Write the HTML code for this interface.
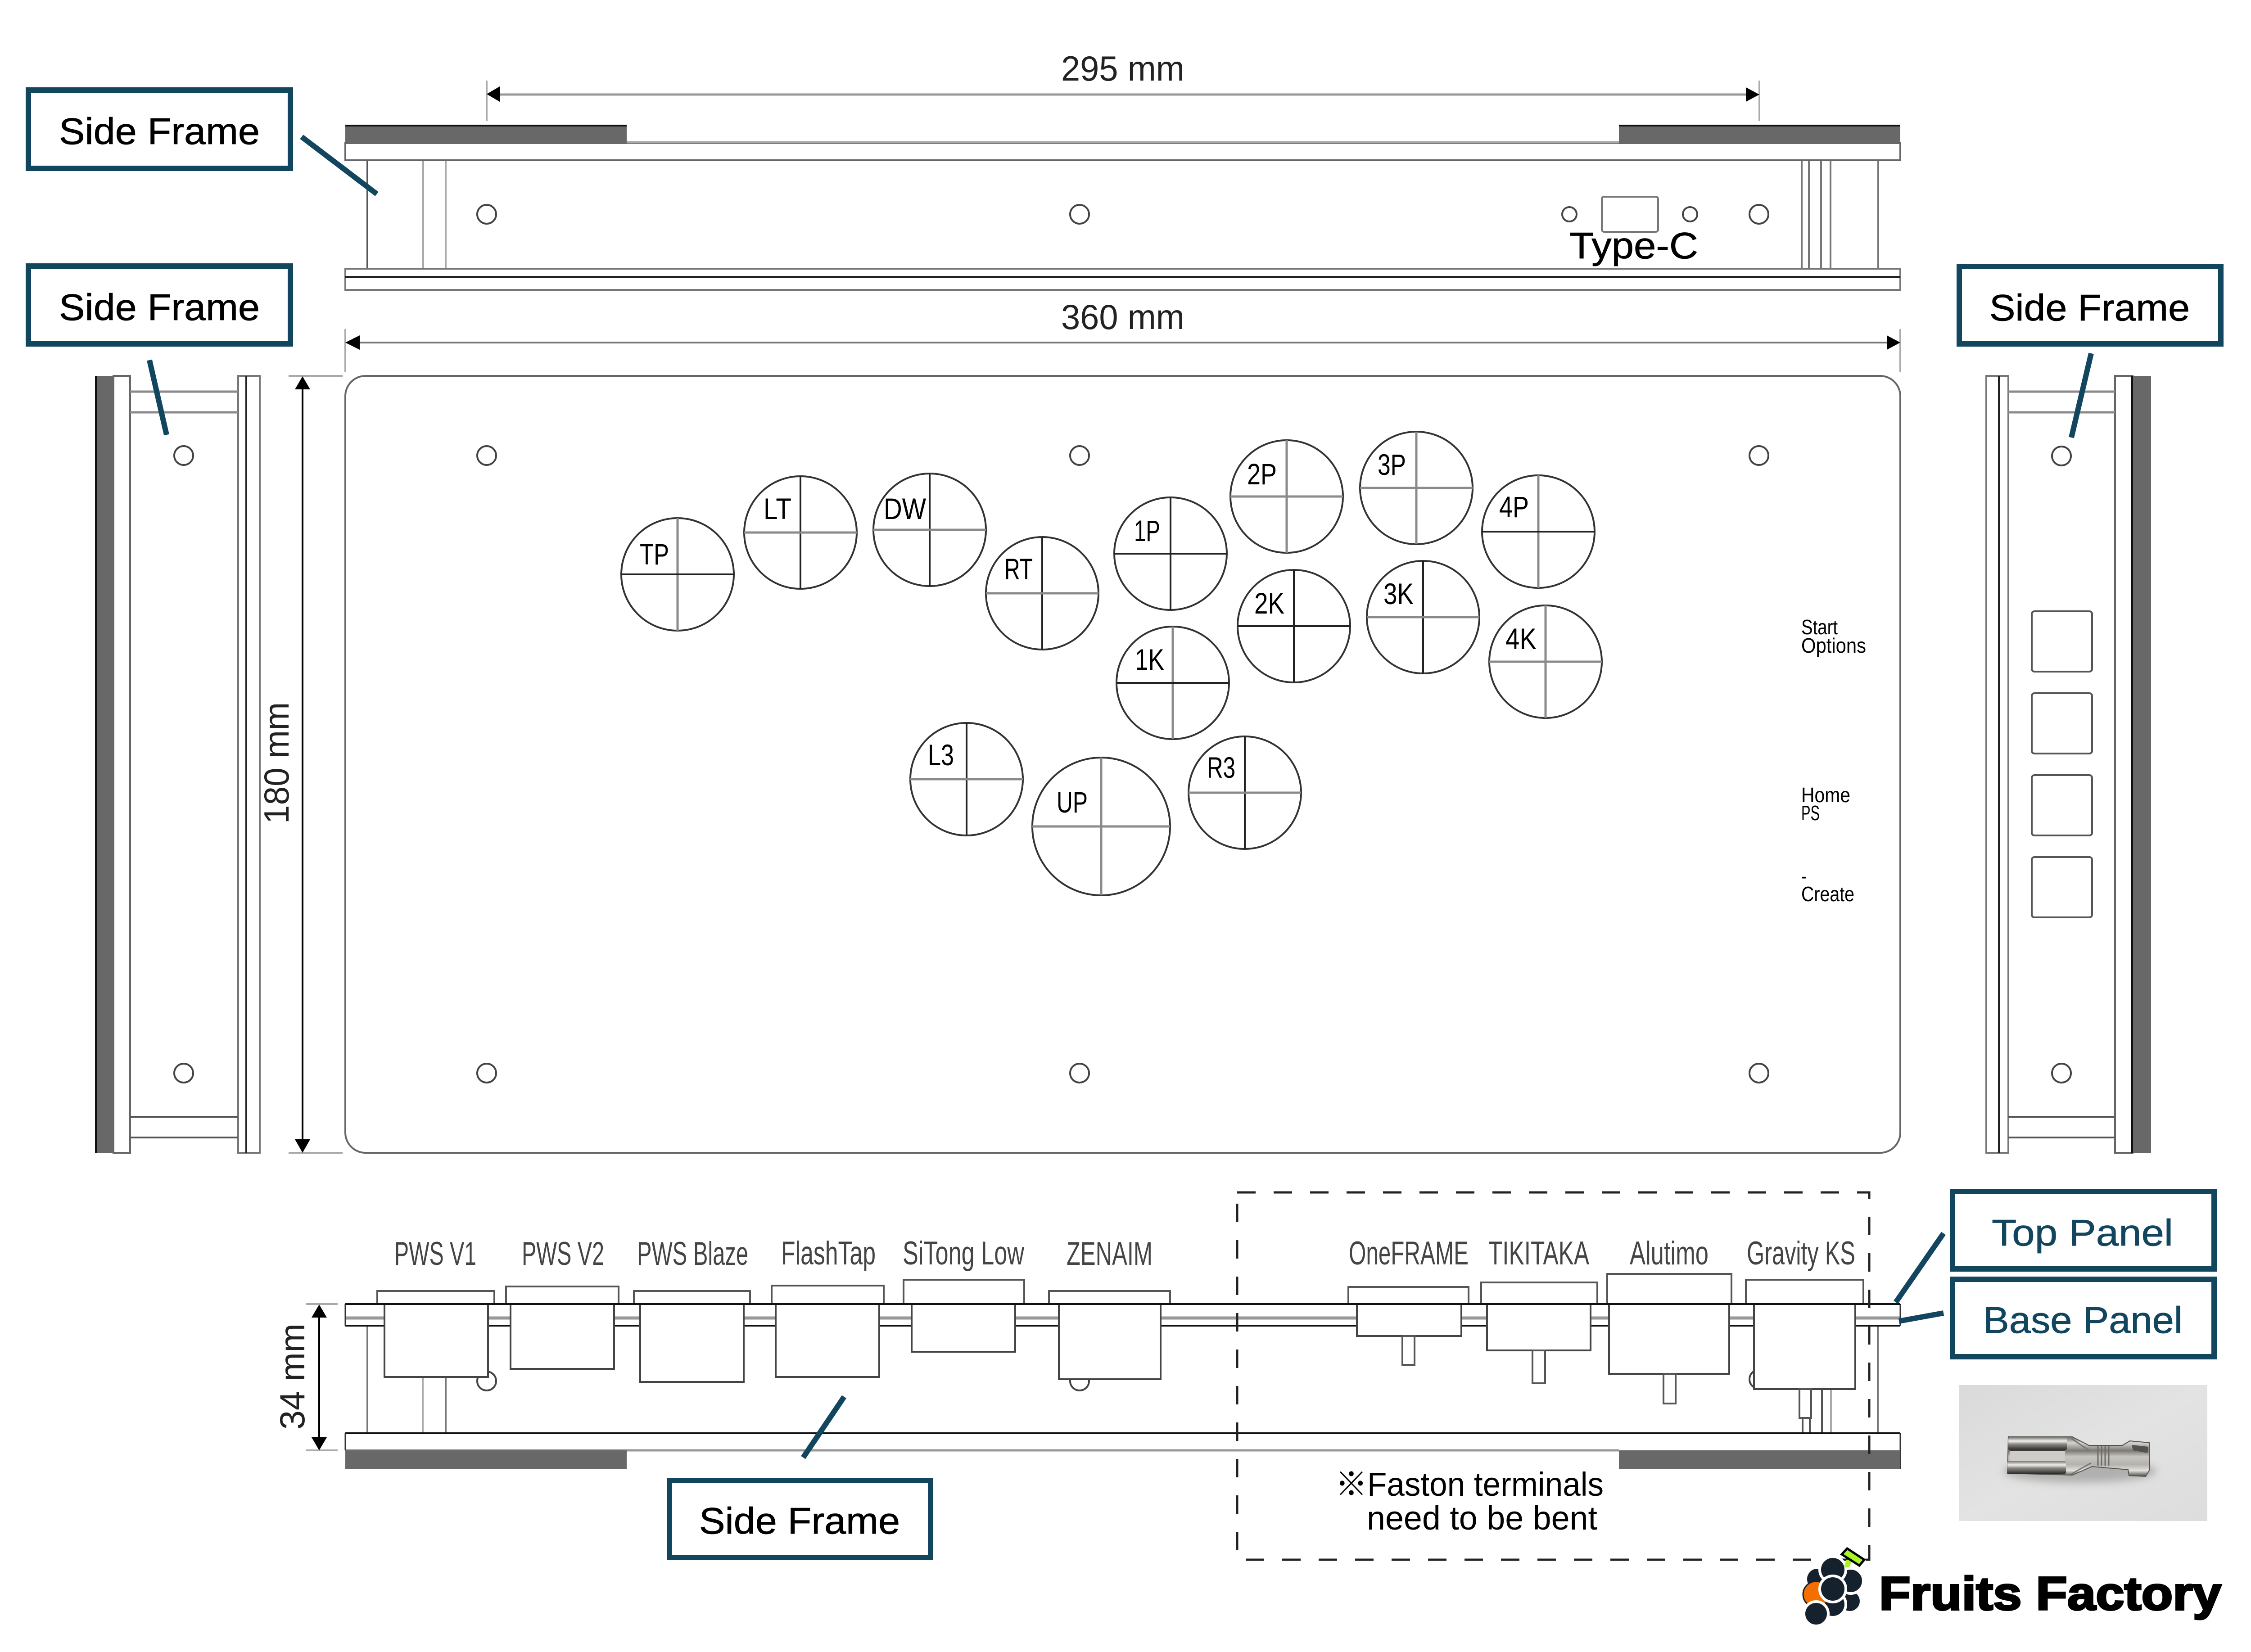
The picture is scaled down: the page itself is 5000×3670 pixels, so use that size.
<!DOCTYPE html>
<html lang="en">
<head>
<meta charset="utf-8">
<title>Arcade Controller Diagram</title>
<style>
html,body{margin:0;padding:0;background:#fff;width:5000px;height:3670px;overflow:hidden}
svg{display:block}
text{font-family:"Liberation Sans",sans-serif;fill:#000}
.k{stroke:#222;stroke-width:4;fill:none}
.g{stroke:#8a8a8a;stroke-width:5;fill:none}
.m{stroke:#555;stroke-width:4;fill:none}
.l{stroke:#aaa;stroke-width:4;fill:none}
.c{stroke:#333;stroke-width:4;fill:#fff}
.h{stroke:#444;stroke-width:4;fill:#fff}
.box{fill:#fff;stroke:#12465f;stroke-width:12}
.conn{stroke:#12465f;stroke-width:12;fill:none}
.lab{font-size:66px}
.sw{font-size:73px;fill:#444}
.sm{font-size:46px}
.big{font-size:83px;stroke:#000;stroke-width:.8}
.big2{font-size:83px;fill:#12465f;stroke:#12465f;stroke-width:.8}
.dim{font-size:78px;fill:#222}
.mod{fill:#fff;stroke:#444;stroke-width:4}
.cap{fill:#fff;stroke:#555;stroke-width:4}
</style>
</head>
<body>
<svg xmlns="http://www.w3.org/2000/svg" width="5000" height="3670" viewBox="0 0 5000 3670">
<defs>
<linearGradient id="bgp" x1="0" y1="0" x2="1" y2="1"><stop offset="0" stop-color="#d9dad9"/><stop offset="0.5" stop-color="#e2e3e2"/><stop offset="1" stop-color="#dcdddc"/></linearGradient>
<linearGradient id="met" x1="0" y1="0" x2="0" y2="1"><stop offset="0" stop-color="#6f6c68"/><stop offset="0.15" stop-color="#d6d4d0"/><stop offset="0.35" stop-color="#7d7a75"/><stop offset="0.5" stop-color="#c9c7c2"/><stop offset="0.7" stop-color="#b5b2ad"/><stop offset="0.85" stop-color="#e4e2de"/><stop offset="1" stop-color="#4a4845"/></linearGradient>
<linearGradient id="roll" x1="0" y1="0" x2="0" y2="1"><stop offset="0" stop-color="#7d7a76"/><stop offset="0.3" stop-color="#f2f1ee"/><stop offset="0.55" stop-color="#8b8884"/><stop offset="1" stop-color="#2e2c2a"/></linearGradient>
<filter id="blur" x="-20%" y="-50%" width="140%" height="200%"><feGaussianBlur stdDeviation="9"/></filter>
</defs>

<!-- TOP VIEW -->
<path class="l" d="M1081 179V269M3908 179V269"/>
<path d="M1095 210H3890" stroke="#999" stroke-width="5" fill="none"/>
<polygon points="1081,209 1110,192 1110,226" fill="#000"/>
<polygon points="3908,210 3878,194 3878,226" fill="#000"/>
<text class="dim" x="2357" y="179" textLength="274" lengthAdjust="spacingAndGlyphs">295 mm</text>

<path class="m" d="M816 356V597" stroke-width="3"/>
<path class="l" d="M940 356V597"/>
<path class="l" d="M990 356V597" stroke="#777" stroke-width="3"/>
<path class="l" d="M4002 356V597M4018 356V597M4045 356V597M4066 356V597M4172 356V597" stroke="#777" stroke-width="3" style="stroke:#777"/>
<rect x="767" y="318" width="3454" height="38" fill="#fff" stroke="#666" stroke-width="4"/>
<rect x="767" y="278" width="625" height="40" fill="#686868"/>
<rect x="767" y="277" width="625" height="4" fill="#111"/>
<rect x="3596" y="278" width="625" height="40" fill="#686868"/>
<rect x="3596" y="277" width="625" height="4" fill="#111"/>
<path d="M1392 316H3596" stroke="#aaa" stroke-width="5"/>
<rect x="767" y="597" width="3454" height="47" fill="#fff" stroke="#777" stroke-width="4"/>
<path class="k" d="M767 615H4221"/>
<circle class="h" cx="1081" cy="476" r="21"/>
<circle class="h" cx="2398" cy="476" r="21"/>
<circle class="h" cx="3907" cy="476" r="21"/>
<circle class="h" cx="3486" cy="476" r="16"/>
<circle class="h" cx="3754" cy="476" r="16"/>
<rect x="3558" y="437" width="125" height="78" rx="5" fill="#fff" stroke="#777" stroke-width="4"/>
<text class="big" x="3486" y="574" textLength="286" lengthAdjust="spacingAndGlyphs">Type-C</text>

<!-- 360 dim -->
<path class="l" d="M767 731V826M4221 731V826"/>
<path d="M785 761H4200" stroke="#777" stroke-width="4"/>
<polygon points="767,761 799,745 799,777" fill="#000"/>
<polygon points="4221,761 4191,745 4191,777" fill="#000"/>
<text class="dim" x="2357" y="731" textLength="274" lengthAdjust="spacingAndGlyphs">360 mm</text>

<!-- MAIN PANEL -->
<rect x="767" y="835" width="3454" height="1726" rx="45" ry="45" fill="#fff" stroke="#666" stroke-width="4"/>
<g>
<circle class="h" cx="1081" cy="1012" r="21"/><circle class="h" cx="2398" cy="1012" r="21"/><circle class="h" cx="3907" cy="1012" r="21"/>
<circle class="h" cx="1081" cy="2384" r="21"/><circle class="h" cx="2398" cy="2384" r="21"/><circle class="h" cx="3907" cy="2384" r="21"/>
</g>

<!-- Buttons -->
<g>
<circle class="c" cx="1505" cy="1276" r="125"/><path class="g" d="M1505 1151V1401"/><path class="k" d="M1380 1276H1630"/>
<text class="lab" x="1421" y="1254" textLength="65" lengthAdjust="spacingAndGlyphs">TP</text>
<circle class="c" cx="1778" cy="1183" r="125"/><path class="k" d="M1778 1058V1308"/><path class="g" d="M1653 1183H1903"/>
<text class="lab" x="1696" y="1153" textLength="62" lengthAdjust="spacingAndGlyphs">LT</text>
<circle class="c" cx="2065" cy="1177" r="125"/><path class="k" d="M2065 1052V1302"/><path class="g" d="M1940 1177H2190"/>
<text class="lab" x="1963" y="1153" textLength="94" lengthAdjust="spacingAndGlyphs">DW</text>
<circle class="c" cx="2315" cy="1318" r="125"/><path class="k" d="M2315 1193V1443"/><path class="g" d="M2190 1318H2440"/>
<text class="lab" x="2231" y="1287" textLength="63" lengthAdjust="spacingAndGlyphs">RT</text>
<circle class="c" cx="2600" cy="1230" r="125"/><path class="k" d="M2600 1105V1355"/><path class="k" d="M2475 1230H2725"/>
<text class="lab" x="2519" y="1202" textLength="58" lengthAdjust="spacingAndGlyphs">1P</text>
<circle class="c" cx="2605" cy="1517" r="125"/><path class="g" d="M2605 1392V1642"/><path class="k" d="M2480 1517H2730"/>
<text class="lab" x="2521" y="1488" textLength="65" lengthAdjust="spacingAndGlyphs">1K</text>
<circle class="c" cx="2147" cy="1731" r="125"/><path class="k" d="M2147 1606V1856"/><path class="g" d="M2022 1731H2272"/>
<text class="lab" x="2061" y="1700" textLength="58" lengthAdjust="spacingAndGlyphs">L3</text>
<circle class="c" cx="2446" cy="1836" r="153"/><path class="g" d="M2446 1683V1989"/><path class="g" d="M2293 1836H2599"/>
<text class="lab" x="2347" y="1805" textLength="69" lengthAdjust="spacingAndGlyphs">UP</text>
<circle class="c" cx="2858" cy="1103" r="125"/><path class="g" d="M2858 978V1228"/><path class="g" d="M2733 1103H2983"/>
<text class="lab" x="2770" y="1076" textLength="66" lengthAdjust="spacingAndGlyphs">2P</text>
<circle class="c" cx="3146" cy="1084" r="125"/><path class="g" d="M3146 959V1209"/><path class="g" d="M3021 1084H3271"/>
<text class="lab" x="3060" y="1055" textLength="63" lengthAdjust="spacingAndGlyphs">3P</text>
<circle class="c" cx="3417" cy="1181" r="125"/><path class="g" d="M3417 1056V1306"/><path class="k" d="M3292 1181H3542"/>
<text class="lab" x="3330" y="1149" textLength="66" lengthAdjust="spacingAndGlyphs">4P</text>
<circle class="c" cx="2874" cy="1391" r="125"/><path class="k" d="M2874 1266V1516"/><path class="k" d="M2749 1391H2999"/>
<text class="lab" x="2786" y="1363" textLength="67" lengthAdjust="spacingAndGlyphs">2K</text>
<circle class="c" cx="3161" cy="1371" r="125"/><path class="k" d="M3161 1246V1496"/><path class="g" d="M3036 1371H3286"/>
<text class="lab" x="3073" y="1342" textLength="67" lengthAdjust="spacingAndGlyphs">3K</text>
<circle class="c" cx="3433" cy="1470" r="125"/><path class="g" d="M3433 1345V1595"/><path class="g" d="M3308 1470H3558"/>
<text class="lab" x="3344" y="1442" textLength="69" lengthAdjust="spacingAndGlyphs">4K</text>
<circle class="c" cx="2765" cy="1761" r="125"/><path class="k" d="M2765 1636V1886"/><path class="g" d="M2640 1761H2890"/>
<text class="lab" x="2681" y="1728" textLength="63" lengthAdjust="spacingAndGlyphs">R3</text>
</g>

<!-- Right-side labels -->
<text class="sm" x="4001" y="1409" textLength="81" lengthAdjust="spacingAndGlyphs">Start</text>
<text class="sm" x="4001" y="1450" textLength="144" lengthAdjust="spacingAndGlyphs">Options</text>
<text class="sm" x="4001" y="1782" textLength="109" lengthAdjust="spacingAndGlyphs">Home</text>
<text class="sm" x="4001" y="1822" textLength="41" lengthAdjust="spacingAndGlyphs">PS</text>
<text class="sm" x="4001" y="1962" textLength="12" lengthAdjust="spacingAndGlyphs">-</text>
<text class="sm" x="4001" y="2002" textLength="118" lengthAdjust="spacingAndGlyphs">Create</text>

<!-- LEFT SIDE VIEW -->
<rect x="252" y="835" width="37" height="1726" fill="#fff" stroke="#666" stroke-width="4"/>
<rect x="211" y="835" width="41" height="1726" fill="#686868"/>
<rect x="211" y="835" width="4" height="1726" fill="#111"/>
<rect x="529" y="835" width="48" height="1726" fill="#fff" stroke="#777" stroke-width="4"/>
<path class="k" d="M547 835V2561"/>
<path class="g" d="M289 870H529M289 916H529"/>
<path class="m" d="M289 2481H529M289 2527H529"/>
<circle class="h" cx="408" cy="1012" r="21"/>
<circle class="h" cx="408" cy="2384" r="21"/>

<!-- 180 dim -->
<path class="l" d="M641 835H761M641 2561H761"/>
<path stroke="#000" stroke-width="4" d="M672 850V2545"/>
<polygon points="672,836 655,865 689,865" fill="#000"/>
<polygon points="672,2561 655,2531 689,2531" fill="#000"/>
<text class="dim" transform="translate(641 1830) rotate(-90)" x="0" y="0" textLength="270" lengthAdjust="spacingAndGlyphs">180 mm</text>

<!-- RIGHT SIDE VIEW -->
<rect x="4412" y="835" width="49" height="1726" fill="#fff" stroke="#777" stroke-width="4"/>
<path class="k" d="M4440 835V2561"/>
<rect x="4698" y="835" width="39" height="1726" fill="#fff" stroke="#666" stroke-width="4"/>
<rect x="4737" y="835" width="41" height="1726" fill="#686868"/>
<rect x="4734" y="835" width="4" height="1726" fill="#111"/>
<path class="g" d="M4461 870H4698M4461 916H4698"/>
<path class="m" d="M4461 2481H4698M4461 2527H4698"/>
<circle class="h" cx="4579" cy="1013" r="21"/>
<circle class="h" cx="4579" cy="2384" r="21"/>
<g fill="#fff" stroke="#555" stroke-width="4">
<rect x="4513" y="1358" width="134" height="134" rx="6"/>
<rect x="4513" y="1540" width="134" height="134" rx="6"/>
<rect x="4513" y="1722" width="134" height="134" rx="6"/>
<rect x="4513" y="1904" width="134" height="134" rx="6"/>
</g>

<!-- BOTTOM VIEW -->
<path class="l" d="M816 2945V3184M990 2945V3184M4171 2945V3184" style="stroke:#777" stroke-width="3"/>
<path class="l" d="M939 2945V3184M4067 3086V3184"/>
<path class="m" d="M4047 3086V3184" stroke-width="3"/>
<circle class="h" cx="1081" cy="3068" r="21"/>
<circle class="h" cx="2398" cy="3068" r="21"/>
<circle class="h" cx="3907" cy="3064" r="21"/>

<rect x="767" y="2897" width="3454" height="48" fill="#fff"/>
<path d="M767 2928H4221" stroke="#999" stroke-width="7"/>
<path d="M767 2897H4221" stroke="#111" stroke-width="4"/>
<path d="M767 2945H4221" stroke="#111" stroke-width="4"/>
<path d="M767 2897V2945M4221 2897V2945" stroke="#333" stroke-width="3"/>

<g>
<path class="cap" d="M838 2897V2868H1098V2897"/><rect class="mod" x="854" y="2897" width="230" height="162"/>
<path class="cap" d="M1124 2897V2858H1374V2897"/><rect class="mod" x="1134" y="2897" width="230" height="144"/>
<path class="cap" d="M1408 2897V2868H1666V2897"/><rect class="mod" x="1422" y="2897" width="230" height="173"/>
<path class="cap" d="M1714 2897V2856H1963V2897"/><rect class="mod" x="1723" y="2897" width="230" height="162"/>
<path class="cap" d="M2007 2897V2843H2275V2897"/><rect class="mod" x="2025" y="2897" width="230" height="106"/>
<path class="cap" d="M2330 2897V2868H2599V2897"/><rect class="mod" x="2352" y="2897" width="226" height="167"/>
<path class="cap" d="M2995 2897V2859H3262V2897"/><rect class="mod" x="3014" y="2897" width="232" height="71"/>
<rect class="cap" x="3115" y="2968" width="27" height="64" stroke-width="3"/>
<path class="cap" d="M3290 2897V2849H3548V2897"/><rect class="mod" x="3303" y="2897" width="230" height="103"/>
<rect class="cap" x="3404" y="3000" width="28" height="73" stroke-width="3"/>
<path class="cap" d="M3570 2897V2830H3846V2897"/><rect class="mod" x="3574" y="2897" width="267" height="155"/>
<rect class="cap" x="3695" y="3052" width="27" height="66" stroke-width="3"/>
<path class="cap" d="M3878 2897V2843H4139V2897"/><rect class="mod" x="3896" y="2897" width="225" height="189"/>
<rect class="cap" x="3997" y="3086" width="26" height="64" stroke-width="3"/>
<path class="m" d="M4004 3150V3184M4020 3150V3184" stroke-width="3"/>
</g>
<path d="M767 2897H4221" stroke="#111" stroke-width="4"/>

<rect x="767" y="3184" width="3454" height="38" fill="#fff"/>
<path d="M767 3184H4221" stroke="#111" stroke-width="4"/>
<path d="M767 3222H3596" stroke="#999" stroke-width="5"/>
<path d="M767 3184V3222M4221 3184V3263" stroke="#333" stroke-width="3"/>
<rect x="767" y="3222" width="625" height="41" fill="#686868"/>
<rect x="3596" y="3222" width="625" height="41" fill="#686868"/>

<g class="swg">
<text class="sw" x="876" y="2810" textLength="182" lengthAdjust="spacingAndGlyphs">PWS V1</text>
<text class="sw" x="1159" y="2810" textLength="183" lengthAdjust="spacingAndGlyphs">PWS V2</text>
<text class="sw" x="1415" y="2810" textLength="247" lengthAdjust="spacingAndGlyphs">PWS Blaze</text>
<text class="sw" x="1735" y="2809" textLength="210" lengthAdjust="spacingAndGlyphs">FlashTap</text>
<text class="sw" x="2005" y="2809" textLength="270" lengthAdjust="spacingAndGlyphs">SiTong Low</text>
<text class="sw" x="2369" y="2810" textLength="191" lengthAdjust="spacingAndGlyphs">ZENAIM</text>
<text class="sw" x="2996" y="2809" textLength="266" lengthAdjust="spacingAndGlyphs">OneFRAME</text>
<text class="sw" x="3306" y="2809" textLength="224" lengthAdjust="spacingAndGlyphs">TIKITAKA</text>
<text class="sw" x="3620" y="2809" textLength="175" lengthAdjust="spacingAndGlyphs">Alutimo</text>
<text class="sw" x="3880" y="2809" textLength="241" lengthAdjust="spacingAndGlyphs">Gravity KS</text>
</g>

<!-- 34 dim -->
<path class="l" d="M680 2897H750M680 3222H750"/>
<path d="M709 2915V3205" stroke="#000" stroke-width="4"/>
<polygon points="709,2898 692,2927 726,2927" fill="#000"/>
<polygon points="709,3222 692,3193 726,3193" fill="#000"/>
<text class="dim" transform="translate(676 3176) rotate(-90)" x="0" y="0" textLength="236" lengthAdjust="spacingAndGlyphs">34 mm</text>

<!-- Faston note and dashed box -->
<text font-size="74" x="2966" y="3323" textLength="596" lengthAdjust="spacingAndGlyphs" style="font-family:'Liberation Sans','Noto Sans CJK JP',sans-serif">※Faston terminals</text>
<text font-size="74" x="3036" y="3398" textLength="512" lengthAdjust="spacingAndGlyphs">need to be bent</text>
<rect x="2748" y="2649" width="1404" height="816" fill="none" stroke="#222" stroke-width="5" stroke-dasharray="41 40"/>

<!-- Label boxes -->
<g>
<rect class="box" x="63" y="200" width="582" height="174"/>
<text class="big" x="131" y="320" textLength="446" lengthAdjust="spacingAndGlyphs">Side Frame</text>
<path class="conn" d="M670 304L837 431"/>
<rect class="box" x="63" y="591" width="582" height="173"/>
<text class="big" x="131" y="711" textLength="446" lengthAdjust="spacingAndGlyphs">Side Frame</text>
<path class="conn" d="M332 800L370 966"/>
<rect class="box" x="4352" y="592" width="581" height="172"/>
<text class="big" x="4419" y="712" textLength="445" lengthAdjust="spacingAndGlyphs">Side Frame</text>
<path class="conn" d="M4645 785L4601 972"/>
<rect class="box" x="1487" y="3289" width="580" height="171"/>
<text class="big" x="1553" y="3407" textLength="446" lengthAdjust="spacingAndGlyphs">Side Frame</text>
<path class="conn" d="M1875 3103L1784 3238"/>
<rect class="box" x="4337" y="2647" width="581" height="172"/>
<text class="big2" x="4424" y="2767" textLength="403" lengthAdjust="spacingAndGlyphs">Top Panel</text>
<rect class="box" x="4337" y="2842" width="581" height="172"/>
<text class="big2" x="4405" y="2961" textLength="443" lengthAdjust="spacingAndGlyphs">Base Panel</text>
<path class="conn" d="M4317 2740L4211 2893" stroke-width="8"/>
<path class="conn" d="M4317 2917L4218 2935"/>
</g>

<!-- Photo of Faston terminal -->
<rect x="4352" y="3077" width="551" height="302" fill="url(#bgp)"/>
<ellipse cx="4620" cy="3268" rx="170" ry="26" fill="#8f8f8e" opacity="0.6" filter="url(#blur)"/>
<polygon points="4461,3192 4603,3192 4640,3211 4714,3211 4731,3201 4774,3205 4775,3265 4766,3280 4729,3278 4727,3265 4647,3258 4603,3277 4459,3273" fill="url(#met)" stroke="#55524e" stroke-width="2"/>
<rect x="4461" y="3193" width="130" height="28" rx="3" fill="url(#roll)"/>
<rect x="4459" y="3246" width="130" height="28" rx="3" fill="url(#roll)"/>
<rect x="4465" y="3221" width="122" height="25" fill="#cfcdc8"/>
<path d="M4465 3222H4587" stroke="#3e3c39" stroke-width="3"/>
<path d="M4660 3213V3256M4668 3213V3256M4676 3213V3256M4684 3213V3256" stroke="#6f6c68" stroke-width="3" fill="none"/>
<path d="M4735 3210L4772 3214L4770 3228L4738 3222Z" fill="#55524e"/>
<path d="M4600 3195L4640 3222M4600 3275L4645 3250" stroke="#777" stroke-width="3" fill="none"/>

<!-- Logo -->
<g stroke="#fff" stroke-width="6">
<circle cx="4109" cy="3557" r="25" fill="#15222e"/>
<circle cx="4111" cy="3512" r="28" fill="#15222e"/>
<circle cx="4037" cy="3508" r="26" fill="#15222e"/>
<circle cx="4071" cy="3564" r="29" fill="#15222e"/>
<circle cx="4034" cy="3542" r="29" fill="#f46f00" stroke="#15222e" stroke-width="3"/>
<circle cx="4071" cy="3487" r="29" fill="#15222e"/>
<circle cx="4071" cy="3530" r="29" fill="#15222e"/>
<circle cx="4034" cy="3585" r="27" fill="#15222e"/>
</g>
<polygon points="4101,3465 4114,3468 4107,3482 4096,3482" fill="#a6f52b"/>
<polygon points="4091,3453 4103,3440 4141,3465 4130,3478" fill="#a6f52b" stroke="#000" stroke-width="5"/>
<text x="4174" y="3576" font-size="104" font-weight="700" textLength="760" lengthAdjust="spacingAndGlyphs" stroke="#000" stroke-width="4">Fruits Factory</text>
</svg>
</body>
</html>
